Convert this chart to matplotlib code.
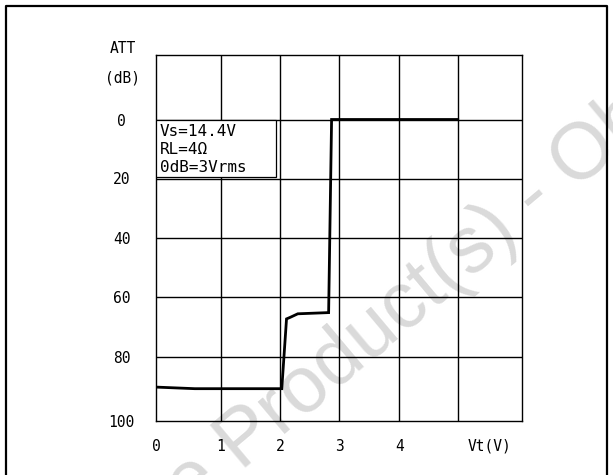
import numpy as np
import matplotlib
matplotlib.use('Agg')
import matplotlib.pyplot as plt
from matplotlib.lines import Line2D
from matplotlib.patches import Rectangle

# ---- data ----
vt = [0.0, 0.6, 2.03, 2.11, 2.17, 2.30, 2.82, 2.87, 5.0]
att = [89.4, 89.9, 89.9, 67.2, 66.7, 65.5, 65.1, 0.0, 0.0]
x_ticks = [0, 1, 2, 3, 4, 5.5]
x_labels = ['0', '1', '2', '3', '4', 'Vt(V)']
y_ticks = [0, 20, 40, 60, 80, 100]
y_labels = ['0', '20', '40', '60', '80', '100']
info_lines = ['Vs=14.4V', 'RL=4Ω', '0dB=3Vrms']
watermark = 'Obsolete Product(s) - Obsolete Product(s)'

W, H = 613, 475
MONO = ['DejaVu Sans Mono']
plt.rcParams['font.family'] = MONO

fig = plt.figure(figsize=(W / 100, H / 100), dpi=100)
fig.patch.set_facecolor('white')

# scanned plotter grid is slightly uneven: grid values -> pixel positions
gx_val = [0, 1, 2, 3, 4, 5, 6]
gx_px = [156, 220.7, 280, 339.3, 399.3, 457.7, 521.7]
gy_val = [-20, 0, 20, 40, 60, 80, 100]
gy_px = [55, 119.5, 178.5, 238.3, 297.3, 357.3, 420.7]


def pw(v, xs, ys):
    v = np.asarray(v, float)
    out = np.interp(v, xs, ys)
    lo = v < xs[0]
    hi = v > xs[-1]
    out = np.where(lo, ys[0] + (v - xs[0]) * (ys[1] - ys[0]) / (xs[1] - xs[0]), out)
    out = np.where(hi, ys[-1] + (v - xs[-1]) * (ys[-1] - ys[-2]) / (xs[-1] - xs[-2]), out)
    return out


ax = fig.add_axes([gx_px[0] / W, 1 - gy_px[-1] / H,
                   (gx_px[-1] - gx_px[0]) / W, (gy_px[-1] - gy_px[0]) / H])
ax.set_facecolor('none')
ax.set_xscale('function', functions=(lambda x: pw(x, gx_val, gx_px),
                                     lambda p: pw(p, gx_px, gx_val)))
ax.set_yscale('function', functions=(lambda y: pw(y, gy_val, gy_px),
                                     lambda p: pw(p, gy_px, gy_val)))
ax.set_xlim(0, 6)
ax.set_ylim(100, -20)

for v in gx_val[1:-1]:
    ax.axvline(v, color='black', lw=1.0, zorder=2)
for v in gy_val[1:-1]:
    ax.axhline(v, color='black', lw=1.0, zorder=2)
for s in ax.spines.values():
    s.set_color('black')
    s.set_linewidth(1.0)

ax.plot(vt, att, color='black', lw=2.0, solid_joinstyle='miter', zorder=4)

ax.add_patch(Rectangle((0, 0), 1.93, 19.5, facecolor='white', edgecolor='black',
                       lw=0.9, zorder=5))
for yv, line in zip([4.1, 10.3, 16.4], info_lines):
    ax.text(0.06, yv, line, ha='left', va='center', fontsize=11.5, zorder=6)

ax.set_xticks(x_ticks, x_labels)
ax.set_yticks(y_ticks, y_labels)
ax.minorticks_off()
ax.tick_params(axis='x', length=0, labelsize=10.5, pad=13.0)
ax.tick_params(axis='y', length=0, labelsize=10.5, pad=24.8)
for lab in ax.get_yticklabels():
    lab.set_horizontalalignment('center')

fig.text(122.7 / W, 1 - 48.5 / H, 'ATT', ha='center', va='center', fontsize=10.5)
fig.text(122.0 / W, 1 - 77.5 / H, '(dB)', ha='center', va='center', fontsize=10.5)

# watermark
ang = 40.0
px0, py0 = 240.0, 472.0  # baseline start of "Product"
off = 338.0
sx = px0 - off * np.cos(np.radians(ang))
sy = py0 + off * np.sin(np.radians(ang))
fig.text(sx / W, 1 - sy / H, watermark, rotation=ang, rotation_mode='anchor',
         ha='left', va='baseline', fontsize=57, color='#dadada',
         family=['Liberation Sans'], zorder=-1)

# figure border (left, top, right)
fig.add_artist(Line2D([6 / W, 6 / W, 607 / W, 607 / W], [0, 1 - 6 / H, 1 - 6 / H, 0],
                      transform=fig.transFigure, color='black', lw=1.6))

fig.savefig('out.png', dpi=100)
